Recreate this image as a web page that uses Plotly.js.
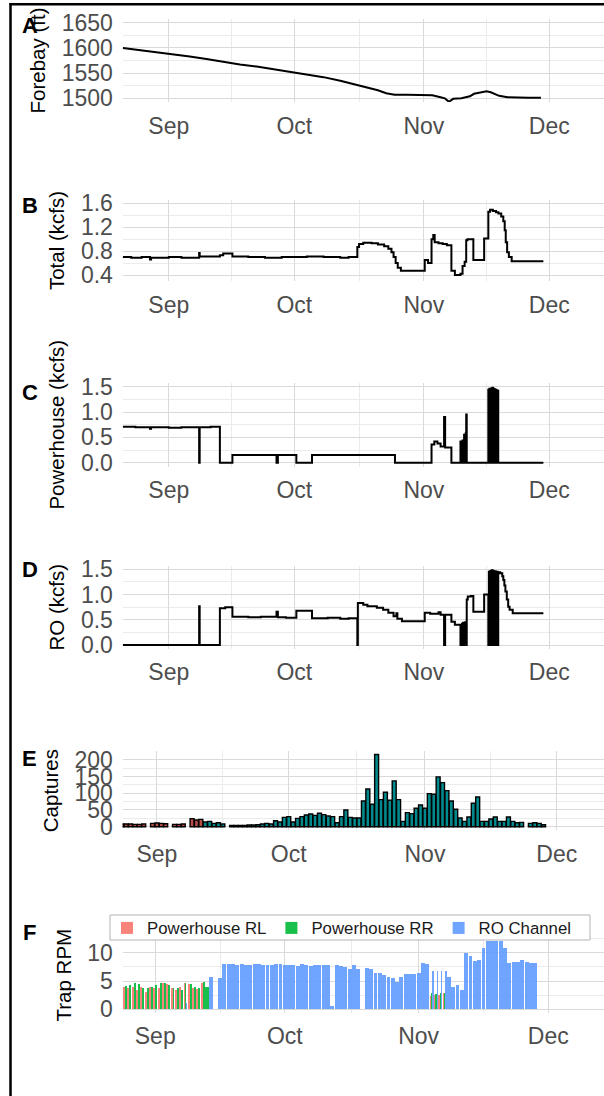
<!DOCTYPE html>
<html><head><meta charset="utf-8">
<script src="https://cdn.plot.ly/plotly-3.0.1.min.js"></script>
<style>html,body{margin:0;padding:0;background:#fff;} #chart{width:604px;height:1096px;}</style>
</head><body><div id="chart"></div>
<script>
// ---------------- DATA ----------------
const monthTickVals = ['2019-09-01','2019-10-01','2019-11-01','2019-12-01'];
const monthTickText = ['Sep','Oct','Nov','Dec'];
const midMonthVals  = ['2019-09-16','2019-10-16 12:00','2019-11-16'];

// Panel A: forebay elevation (ft)
const forebayDates = ['2019-08-21','2019-08-25','2019-08-29','2019-09-02','2019-09-06','2019-09-10','2019-09-14','2019-09-18','2019-09-22','2019-09-26','2019-09-30','2019-10-04','2019-10-08','2019-10-12','2019-10-16','2019-10-19','2019-10-21','2019-10-23','2019-10-25','2019-10-28','2019-11-01','2019-11-03','2019-11-05','2019-11-06','2019-11-07','2019-11-08','2019-11-10','2019-11-12','2019-11-13','2019-11-15','2019-11-16','2019-11-17','2019-11-19','2019-11-21','2019-11-23','2019-11-26','2019-11-29'];
const forebayFt = [1600,1596,1592,1587,1583,1578,1572,1567,1563,1558,1553,1547,1542,1535,1527,1521,1516,1510,1507,1507,1507,1506,1502,1500,1493,1499,1500,1504,1509,1512,1514,1512,1505,1502,1501,1501,1501];

// Panel B: total flow (kcfs)
const totalDates = ['2019-08-21 00:00','2019-08-23 00:00','2019-08-25 12:00','2019-08-27 12:00','2019-08-27 18:00','2019-08-29 00:00','2019-09-01 00:00','2019-09-04 00:00','2019-09-08 06:00','2019-09-08 09:00','2019-09-11 00:00','2019-09-13 05:00','2019-09-14 00:00','2019-09-16 05:00','2019-09-20 00:00','2019-09-24 00:00','2019-09-28 00:00','2019-10-01 12:00','2019-10-04 00:00','2019-10-08 00:00','2019-10-12 00:00','2019-10-14 00:00','2019-10-16 02:00','2019-10-16 12:00','2019-10-17 12:00','2019-10-19 12:00','2019-10-21 00:00','2019-10-22 12:00','2019-10-23 12:00','2019-10-24 06:00','2019-10-24 18:00','2019-10-25 06:00','2019-10-25 18:00','2019-10-26 12:00','2019-11-01 05:00','2019-11-02 00:00','2019-11-02 20:00','2019-11-03 06:00','2019-11-03 14:00','2019-11-04 12:00','2019-11-05 12:00','2019-11-06 12:00','2019-11-07 14:00','2019-11-08 10:00','2019-11-09 18:00','2019-11-10 06:00','2019-11-10 18:00','2019-11-11 03:00','2019-11-11 10:00','2019-11-12 20:00','2019-11-15 10:00','2019-11-16 10:00','2019-11-16 20:00','2019-11-17 12:00','2019-11-18 06:00','2019-11-18 20:00','2019-11-19 12:00','2019-11-20 00:00','2019-11-20 08:00','2019-11-20 14:00','2019-11-20 22:00','2019-11-21 08:00','2019-11-22 00:00','2019-11-29 14:00'];
const totalKcfs = [0.70,0.69,0.70,0.66,0.69,0.69,0.70,0.69,0.77,0.71,0.71,0.73,0.76,0.71,0.70,0.69,0.70,0.70,0.71,0.70,0.69,0.70,0.87,0.92,0.94,0.93,0.91,0.88,0.84,0.78,0.70,0.60,0.52,0.47,0.65,0.60,1.00,1.07,0.95,0.93,0.92,0.90,0.47,0.40,0.42,0.55,0.62,0.98,1.00,0.65,1.01,1.46,1.49,1.47,1.45,1.43,1.38,1.30,1.15,0.95,0.78,0.70,0.63,0.63];

// Panel C: powerhouse flow (kcfs)
const phDates = ['2019-08-21 00:00','2019-08-24 00:00','2019-08-27 12:00','2019-08-27 18:00','2019-09-01 00:00','2019-09-04 00:00','2019-09-08 06:00','2019-09-08 09:00','2019-09-11 00:00','2019-09-13 05:00','2019-09-16 05:00','2019-09-26 18:00','2019-09-27 02:00','2019-10-01 12:00','2019-10-05 06:00','2019-10-25 02:00','2019-11-02 20:00','2019-11-03 12:00','2019-11-04 06:00','2019-11-05 00:00','2019-11-05 20:00','2019-11-06 02:00','2019-11-07 14:00',
 '2019-11-09 18:00','2019-11-09 21:00','2019-11-10 00:00','2019-11-10 03:00','2019-11-10 06:00','2019-11-10 09:00','2019-11-10 12:00','2019-11-10 15:00','2019-11-10 21:00','2019-11-11 00:00','2019-11-11 03:00','2019-11-11 06:00',
 '2019-11-16 10:00','2019-11-16 13:00','2019-11-16 16:00','2019-11-16 19:00','2019-11-16 22:00','2019-11-17 01:00','2019-11-17 04:00','2019-11-17 07:00','2019-11-17 10:00','2019-11-17 13:00','2019-11-17 16:00','2019-11-17 19:00','2019-11-17 22:00','2019-11-18 01:00','2019-11-18 04:00','2019-11-18 07:00','2019-11-18 10:00','2019-11-18 13:00','2019-11-18 16:00','2019-11-18 19:00','2019-11-29 14:00'];
const phKcfs = [0.71,0.70,0.67,0.70,0.69,0.70,0.00,0.70,0.71,0.00,0.15,0.00,0.15,0.00,0.15,0.00,0.36,0.42,0.38,0.32,0.90,0.30,0.00,
 0.42,0.00,0.42,0.00,0.44,0.00,0.44,0.55,0.00,0.58,0.95,0.00,
 1.44,0.00,1.46,0.00,1.45,0.00,1.47,0.00,1.48,0.00,1.46,0.00,1.45,0.00,1.44,0.00,1.43,0.00,1.42,0.00,0.00];

// Panel D: regulating outlet flow (kcfs)
const roDatesFlow = ['2019-08-21 00:00','2019-09-08 06:00','2019-09-08 09:00','2019-09-13 05:00','2019-09-14 12:00','2019-09-16 05:00','2019-09-20 00:00','2019-09-23 00:00','2019-09-26 18:00','2019-09-27 02:00','2019-09-29 00:00','2019-10-01 12:00','2019-10-05 06:00','2019-10-09 00:00','2019-10-12 00:00','2019-10-14 00:00','2019-10-16 02:00','2019-10-16 05:00','2019-10-17 12:00','2019-10-18 12:00','2019-10-20 18:00','2019-10-22 06:00','2019-10-23 12:00','2019-10-24 18:00','2019-10-25 10:00','2019-10-25 16:00','2019-10-26 18:00','2019-11-01 05:00','2019-11-02 12:00','2019-11-04 12:00','2019-11-05 00:00','2019-11-05 20:00','2019-11-06 02:00','2019-11-07 14:00','2019-11-08 10:00',
 '2019-11-09 18:00','2019-11-09 21:00','2019-11-10 00:00','2019-11-10 03:00','2019-11-10 06:00','2019-11-10 09:00','2019-11-10 12:00','2019-11-10 15:00','2019-11-10 21:00','2019-11-11 00:00','2019-11-11 03:00','2019-11-11 06:00','2019-11-11 12:00','2019-11-12 06:00','2019-11-12 20:00','2019-11-15 10:00',
 '2019-11-16 10:00','2019-11-16 13:00','2019-11-16 16:00','2019-11-16 19:00','2019-11-16 22:00','2019-11-17 01:00','2019-11-17 04:00','2019-11-17 07:00','2019-11-17 10:00','2019-11-17 13:00','2019-11-17 16:00','2019-11-17 19:00','2019-11-17 22:00','2019-11-18 01:00','2019-11-18 04:00','2019-11-18 07:00','2019-11-18 10:00','2019-11-18 13:00','2019-11-18 16:00','2019-11-18 19:00',
 '2019-11-19 06:00','2019-11-19 18:00','2019-11-20 00:00','2019-11-20 06:00','2019-11-20 12:00','2019-11-20 20:00','2019-11-21 04:00','2019-11-21 12:00','2019-11-22 06:00','2019-11-29 14:00'];
const roKcfs = [0.00,0.77,0.00,0.73,0.75,0.56,0.55,0.56,0.66,0.55,0.54,0.68,0.53,0.54,0.52,0.53,0.00,0.83,0.80,0.77,0.74,0.70,0.64,0.57,0.63,0.52,0.47,0.64,0.62,0.65,0.60,0.00,0.60,0.46,0.40,
 0.00,0.40,0.00,0.42,0.00,0.44,0.00,0.05,0.45,0.40,0.00,0.90,0.96,0.97,0.66,1.00,
 0.00,1.45,0.00,1.46,0.00,1.47,0.00,1.48,0.00,1.47,0.00,1.46,0.00,1.46,0.00,1.45,0.00,1.45,0.00,1.44,
 1.42,1.36,1.29,1.18,1.06,0.90,0.76,0.70,0.63,0.63];

// Panel E: daily captures
const capturesPowerhouseStart = '2019-08-24';
const capturesPowerhouse = [8,8,8,7,7,8,null,10,11,10,9,null,7,7,8,null,24,20,22];
const capturesROStart = '2019-09-12';
const capturesRO = [14,16,10,12,8,null,4,4,4,4,5,5,6,8,10,8,18,14,28,
 30,14,25,30,35,38,34,40,36,32,30,12,30,50,28,26,26,77,113,67,216,81,103,79,137,81,16,42,39,55,65,
 55,99,97,149,132,108,77,52,26,16,29,70,89,16,16,23,29,16,16,29,16,12,13,null,10,12,10,6];

// Panel F: trap RPM
const rlStarts = ['2019-08-25','2019-11-04'];
const rlRPM = [[4.0,3.7,4.0,3.4,4.0,3.1,4.0,3.8,3.7,4.6,4.5,3.7,3.4,3.9,4.6,4.5,3.8,3.6,4.6],[2.4,2.6,2.5,2.9]];
const rrStarts = ['2019-08-25','2019-11-04'];
const rrRPM = [[4.1,4.3,4.6,4.5,3.7,3.7,4.0,4.3,4.6,4.7,4.3,3.7,3.7,3.5,4.6,4.5,4.0,3.7,4.8,4.0],[2.8,2.7,2.8,2.9]];
const roRPMStart = '2019-09-08';
const roRPM = [1.2,null,null,null,null,null,5.8,null,5.5,
 8.0,8.0,8.0,7.9,8.0,7.9,7.8,8.0,8.0,7.9,7.9,7.8,8.0,8.0,
 7.9,7.9,7.8,7.6,8.1,7.9,7.7,7.8,7.8,7.8,7.8,0.5,7.9,7.6,7.5,7.1,7.9,7.1,null,7.3,7.1,6.4,6.5,6.1,5.7,5.5,4.9,5.8,6.25,6.25,6.3,
 6.5,8.2,8.0,6.7,6.8,6.8,6.8,5.8,4.0,4.3,3.5,10.0,9.4,8.5,8.7,10.9,12.1,12.1,12.1,12.1,10.9,8.2,8.3,8.3,8.8,8.3,8.2,8.2];

// ---------------- HELPERS ----------------
const DAY = 864e5;
function days(start, n) {
  const t0 = Date.parse(start + 'T00:00:00Z'); const out = [];
  for (let i = 0; i < n; i++) out.push(new Date(t0 + i * DAY).toISOString().slice(0, 10));
  return out;
}
function series(starts, vals) {
  let d = [], v = [];
  starts.forEach((s, i) => { d = d.concat(days(s, vals[i].length)); v = v.concat(vals[i]); });
  return { d, v };
}
const W = 604, H = 1096;
const X0 = 122.5 / W;
const fy = px => 1 - px / H;

const rl = series(rlStarts, rlRPM);
const rr = series(rrStarts, rrRPM);
const ro = series([roRPMStart], [roRPM]);
// dodge the traps operating on the same day
const traps = [rl, rr, ro];
const present = {};
traps.forEach((t, i) => t.d.forEach((d, j) => { if (t.v[j] != null) (present[d] = present[d] || []).push(i); }));
traps.forEach((t, i) => {
  t.w = t.d.map(d => { const p = present[d] || [i]; return 0.9 * DAY / p.length; });
  t.o = t.d.map(d => { const p = present[d] || [i]; const k = Math.max(0, p.indexOf(i)); return (-0.45 + k * 0.9 / p.length) * DAY; });
});

// ---------------- LAYOUT ----------------
const GRID = '#dadada', GRIDMINOR = '#ebebeb';
const TICKC = '#4d4d4d';
const FONT = 'Liberation Sans, Arial, sans-serif';
const TICKSIZE = 23;
const rangeAD = ['2019-08-20 22:00', '2019-12-14 02:00'];
const rangeE = ['2019-08-24 04:00', '2019-12-11 18:00'];
const rangeF = ['2019-08-24 10:00', '2019-12-13 22:00'];

function xAxis(range, anchor) {
  return { domain: [X0, 1], range, anchor, type: 'date', tickmode: 'array', tickvals: monthTickVals, ticktext: monthTickText,
    ticks: 'outside', ticklen: 3, tickcolor: 'rgba(0,0,0,0)', tickfont: { size: TICKSIZE, color: TICKC },
    showgrid: true, gridcolor: GRID, gridwidth: 1,
    minor: { tickmode: 'array', tickvals: midMonthVals, showgrid: true, gridcolor: GRIDMINOR, gridwidth: 1, ticks: '' },
    zeroline: false, showline: false, fixedrange: true };
}
function yAxis(top, bottom, range, tickvals, minorvals, fmt, title, anchor) {
  return { domain: [fy(bottom), fy(top)], range, anchor, tickmode: 'array', tickvals, tickformat: fmt,
    ticks: 'outside', ticklen: 4, tickcolor: 'rgba(0,0,0,0)', tickfont: { size: TICKSIZE, color: TICKC },
    showgrid: true, gridcolor: GRID, gridwidth: 1,
    minor: { tickmode: 'array', tickvals: minorvals, showgrid: true, gridcolor: GRIDMINOR, gridwidth: 1, ticks: '' },
    zeroline: false, showline: false, fixedrange: true,
    title: { text: title, font: { size: 20.5, color: '#000' }, standoff: 10 } };
}

const lineStyle = { color: '#000', width: 2 };
const data = [
  { x: forebayDates, y: forebayFt, type: 'scatter', mode: 'lines', line: lineStyle, xaxis: 'x', yaxis: 'y', showlegend: false },
  { x: totalDates, y: totalKcfs, type: 'scatter', mode: 'lines', line: Object.assign({ shape: 'hv' }, lineStyle), xaxis: 'x2', yaxis: 'y2', showlegend: false },
  { x: phDates, y: phKcfs, type: 'scatter', mode: 'lines', line: Object.assign({ shape: 'hv' }, lineStyle), xaxis: 'x3', yaxis: 'y3', showlegend: false },
  { x: roDatesFlow, y: roKcfs, type: 'scatter', mode: 'lines', line: Object.assign({ shape: 'hv' }, lineStyle), xaxis: 'x4', yaxis: 'y4', showlegend: false },
  { x: days(capturesPowerhouseStart, capturesPowerhouse.length), y: capturesPowerhouse, type: 'bar', width: 0.9 * DAY, offset: -0.45 * DAY,
    marker: { color: '#b84c46', line: { color: '#000', width: 1.4 } }, xaxis: 'x5', yaxis: 'y5', showlegend: false },
  { x: days(capturesROStart, capturesRO.length), y: capturesRO, type: 'bar', width: 0.9 * DAY, offset: -0.45 * DAY,
    marker: { color: '#008a8d', line: { color: '#000', width: 1.4 } }, xaxis: 'x5', yaxis: 'y5', showlegend: false },
  { name: 'Powerhouse RL', x: rl.d, y: rl.v, width: rl.w, offset: rl.o, type: 'bar', marker: { color: '#F8766D', line: { width: 0 } }, opacity: 0.9, xaxis: 'x6', yaxis: 'y6' },
  { name: 'Powerhouse RR', x: rr.d, y: rr.v, width: rr.w, offset: rr.o, type: 'bar', marker: { color: '#00BA38', line: { width: 0 } }, opacity: 0.9, xaxis: 'x6', yaxis: 'y6' },
  { name: 'RO Channel', x: ro.d, y: ro.v, width: ro.w, offset: ro.o, type: 'bar', marker: { color: '#619CFF', line: { width: 0 } }, opacity: 0.9, xaxis: 'x6', yaxis: 'y6' }
];

const letters = [['A', 26], ['B', 205.5], ['C', 393], ['D', 569], ['E', 758], ['F', 933]];
const annotations = letters.map(([t, y]) => ({ text: '<b>' + t + '</b>', xref: 'paper', yref: 'paper', x: 30 / W, y: fy(y),
  xanchor: 'center', yanchor: 'middle', showarrow: false, font: { size: 22, color: '#000' } }));

const layout = {
  width: W, height: H, margin: { l: 0, r: 0, t: 0, b: 0 }, paper_bgcolor: '#fff', plot_bgcolor: '#fff',
  font: { family: FONT, color: '#000' }, barmode: 'overlay', bargap: 0,
  xaxis: xAxis(rangeAD, 'y'), xaxis2: xAxis(rangeAD, 'y2'), xaxis3: xAxis(rangeAD, 'y3'), xaxis4: xAxis(rangeAD, 'y4'),
  xaxis5: xAxis(rangeE, 'y5'), xaxis6: xAxis(rangeF, 'y6'),
  yaxis: yAxis(18.9, 102.1, [1492.5, 1657.5], [1500, 1550, 1600, 1650], [1525, 1575, 1625], 'd', 'Forebay (ft)', 'x'),
  yaxis2: yAxis(200.0, 281.0, [0.3, 1.655], [0.4, 0.8, 1.2, 1.6], [0.6, 1.0, 1.4], '.1f', 'Total (kcfs)', 'x2'),
  yaxis3: yAxis(382.9, 466.5, [-0.075, 1.575], [0, 0.5, 1.0, 1.5], [0.25, 0.75, 1.25], '.1f', 'Powerhouse (kcfs)', 'x3'),
  yaxis4: yAxis(565.5, 648.8, [-0.075, 1.575], [0, 0.5, 1.0, 1.5], [0.25, 0.75, 1.25], '.1f', 'RO (kcfs)', 'x4'),
  yaxis5: yAxis(750.9, 830.3, [-10.8, 226.8], [0, 50, 100, 150, 200], [25, 75, 125, 175, 225], 'd', 'Captures', 'x5'),
  yaxis6: yAxis(937.6, 1012.7, [-0.6, 12.7], [0, 5, 10], [2.5, 7.5, 12.5], 'd', 'Trap RPM', 'x6'),
  legend: { orientation: 'h', x: 107 / W, y: fy(928), xanchor: 'left', yanchor: 'middle', bgcolor: 'rgba(0,0,0,0)', borderwidth: 0,
    font: { size: 16.8, color: '#1a1a1a' }, traceorder: 'normal' },
  annotations,
  shapes: [
    { type: 'rect', xref: 'paper', yref: 'paper', x0: 110 / W, x1: 590 / W, y0: fy(940), y1: fy(915), layer: 'above',
      fillcolor: '#fff', line: { color: '#b3b3b3', width: 1 } },
    { type: 'line', xref: 'paper', yref: 'paper', x0: 10.5 / W, x1: 10.5 / W, y0: 0, y1: fy(3), line: { color: '#000', width: 2.5 } },
    { type: 'line', xref: 'paper', yref: 'paper', x0: 9.5 / W, x1: 1, y0: fy(4.3), y1: fy(4.3), line: { color: '#000', width: 2.5 } }
  ]
};
Plotly.newPlot('chart', data, layout, { staticPlot: true, displayModeBar: false });
</script></body></html>
